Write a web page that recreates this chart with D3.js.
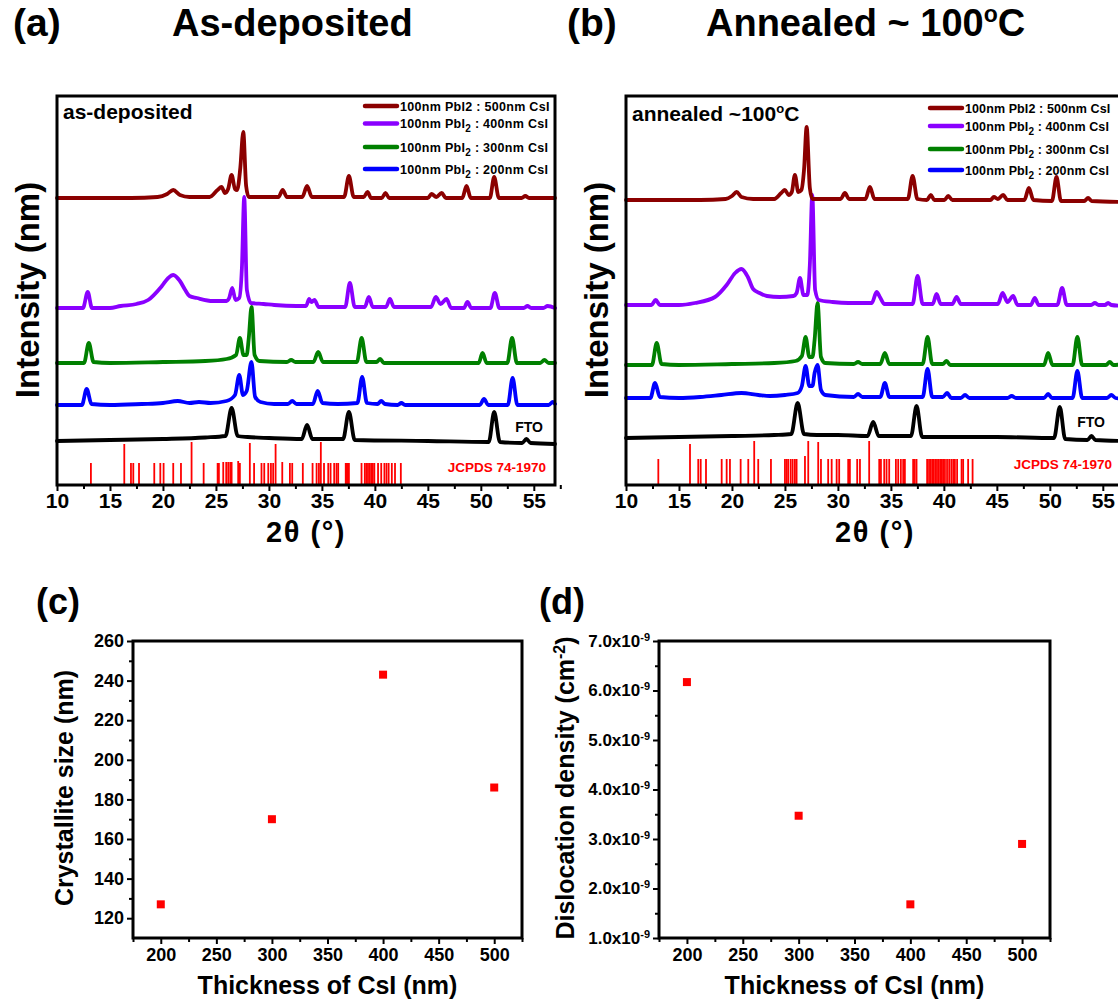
<!DOCTYPE html>
<html>
<head>
<meta charset="utf-8">
<script src="https://cdn.jsdelivr.net/npm/d3@7"></script>
<style>
  body { margin: 0; background: #fff; }
  svg { display: block; }
  text { font-family: "Liberation Sans", Arial, Helvetica, sans-serif; font-weight: bold; }
</style>
</head>
<body>
<svg id="fig" width="1118" height="1000"></svg>
<script>
// ---------------- XRD patterns: [2θ (deg), intensity above the trace offset (a.u.)] ----------------
// as-deposited films
const asDep500 = [[10,0],[17,0],[19.5,1],[20.4,4],[20.97,8],[21.6,3],[22.5,1],[24.4,1],[25.15,8],[25.53,11],[25.85,5],[26.15,9],[26.48,23],[26.8,9],[27.0,8],[27.3,30],[27.58,66],[27.85,12],[28.1,1],[30.9,1],[31.3,8],[31.7,1],[33.15,1],[33.6,12],[34.05,1],[37.1,1],[37.55,22],[38.0,1],[38.95,1],[39.3,6],[39.65,0],[40.65,0],[41.0,5],[41.35,0],[45.0,0],[45.35,4],[45.8,1],[46.3,5],[46.7,0],[48.25,0],[48.65,12],[49.05,0],[50.85,0],[51.26,21],[51.7,0],[53.85,0],[54.2,2],[54.55,0],[57,0]];
const asDep400 = [[10,0],[12.45,0],[12.9,16],[13.3,0],[15,0],[16,2],[17.5,4],[18.6,8],[19.9,22],[20.5,30],[20.97,33],[21.6,27],[22.1,18],[22.5,12],[23.2,10],[24.7,7],[26.0,7],[26.25,10],[26.54,20],[26.85,8],[27.2,10],[27.45,40],[27.67,111],[27.92,18],[28.3,5],[29.5,4],[30.5,3],[32.6,2],[33.5,2],[33.8,9],[34.0,6],[34.3,8],[34.7,1],[37.2,1],[37.64,25],[38.1,1],[39.05,1],[39.43,11],[39.8,1],[41.05,1],[41.42,9],[41.8,1],[45.3,1],[45.75,11],[46.2,4],[46.76,9],[47.2,0],[48.4,0],[48.74,6],[49.1,0],[50.9,0],[51.32,15],[51.75,0],[54.05,0],[54.4,2],[54.75,0],[55.9,0],[56.3,2],[57,0]];
const asDep300 = [[10,0],[12.55,0],[13.0,20],[13.45,1],[15,0],[20,1],[24,2],[26,4],[26.9,8],[27.26,25],[27.6,8],[27.9,8],[28.1,25],[28.36,56],[28.65,8],[29.1,2],[31.7,1],[32.1,3],[32.5,1],[34.2,1],[34.65,11],[35.1,1],[38.3,1],[38.75,25],[39.2,1],[40.15,1],[40.5,4],[40.85,0],[49.8,0],[50.16,10],[50.55,0],[52.5,0],[52.95,25],[53.4,0],[55.6,0],[56.0,3],[56.4,0],[57,0]];
const asDep200 = [[10,0],[12.35,0],[12.8,16],[13.25,1],[15,0],[18,1],[20,2],[21.4,4],[22.5,2],[23.4,3],[24.5,2],[26,4],[26.8,10],[27.2,30],[27.55,10],[27.9,14],[28.35,43],[28.7,8],[29.2,3],[30.5,1],[31.8,1],[32.2,4],[32.6,1],[34.15,1],[34.6,14],[35.05,2],[36.5,1],[38.35,2],[38.8,28],[39.25,2],[40.25,1],[40.6,4],[40.95,1],[42.15,0],[42.5,2],[42.85,0],[49.9,0],[50.3,6],[50.7,0],[52.55,0],[53.0,27],[53.45,0],[56.4,0],[56.8,3],[57,1]];
const asDepFTO = [[10,0],[15,1],[20,2],[24,3.5],[25.9,5],[26.48,33],[27.05,5],[28,4],[30,3],[33.1,2],[33.6,16],[34.1,2],[37.0,2],[37.55,29],[38.1,1],[45,0],[50.75,-1],[51.26,29],[51.8,-1],[53.9,-2],[54.3,2],[54.7,-2],[57,-3]];
const asDepOffsets = [287, 177, 122, 80, 44];

// films annealed at ~100 °C
const ann500 = [[10,0],[17,0],[19.4,1],[20.0,4],[20.44,8],[20.9,3],[22,1],[24,1],[24.65,7],[25.0,10],[25.35,5],[25.65,8],[25.94,25],[26.26,8],[26.55,10],[26.8,30],[27.05,73],[27.35,12],[27.6,1],[30.25,1],[30.66,7],[31.05,1],[32.6,1],[33.02,13],[33.45,1],[36.6,1],[37.05,24],[37.5,1],[38.4,0],[38.77,5],[39.1,0],[40.05,0],[40.41,4],[40.8,0],[44.4,0],[44.72,3],[45.1,1],[45.59,5],[46.0,0],[47.6,0],[48.02,12],[48.45,0],[50.2,-1],[50.63,23],[51.05,-1],[53.25,-1],[53.61,2],[53.95,-1],[57,-2]];
const ann400 = [[10,0],[12.4,0],[12.8,5],[13.2,0],[15,0],[16.5,2],[18.4,8],[19.5,20],[20.3,32],[20.9,36],[21.5,28],[22.0,16],[22.6,12],[23.3,9],[24.5,8],[25.8,9],[26.1,12],[26.42,27],[26.75,10],[27.1,10],[27.35,40],[27.58,110],[27.85,15],[28.2,5],[29.5,3],[31,2],[33.2,2],[33.65,13],[33.96,8],[34.4,1],[37.05,1],[37.52,29],[38,1],[38.95,1],[39.31,11],[39.7,1],[40.8,1],[41.2,8],[41.6,1],[45.1,1],[45.54,12],[46.0,3],[46.54,9],[46.95,0],[48.2,0],[48.58,7],[48.95,0],[50.7,0],[51.16,17],[51.6,0],[53.9,0],[54.25,2],[54.6,0],[55.2,0],[55.5,2],[55.8,0],[57,-1]];
const ann300 = [[10,0],[12.45,0],[12.9,22],[13.35,1],[15,0],[20,1],[24,2],[26,4],[26.6,9],[26.95,28],[27.3,8],[27.6,8],[27.8,25],[28.08,62],[28.4,8],[28.8,2],[31.5,1],[31.9,3],[32.3,1],[34.0,1],[34.43,12],[34.85,1],[38.0,1],[38.46,28],[38.9,1],[39.9,1],[40.25,4],[40.6,0],[49.45,0],[49.84,12],[50.25,0],[52.15,0],[52.6,28],[53.05,0],[55.3,0],[55.66,3],[56.0,0],[57,1]];
const ann200 = [[10,0],[12.3,0],[12.74,15],[13.2,1],[15,0],[17,1],[19,3],[20.9,5],[22.5,3],[23.6,2],[25,3],[26.2,5],[26.6,12],[26.95,32],[27.3,12],[27.6,12],[27.8,25],[28.08,33],[28.4,8],[28.8,3],[31.5,1],[31.9,4],[32.3,1],[34.0,1],[34.43,15],[34.85,1],[38.0,1],[38.46,29],[38.9,1],[39.9,1],[40.3,5],[40.7,0],[41.6,0],[42.0,3],[42.4,0],[46.0,0],[46.4,2],[46.8,0],[49.45,0],[49.84,4],[50.2,0],[52.15,0],[52.6,27],[53.05,0],[55.4,0],[55.8,3],[56.2,0],[57,-1]];
const annFTO = [[10,0],[15,1],[20,2],[24,3],[25.6,4],[26.2,35],[26.8,4],[28,3],[30,3],[32.8,2],[33.33,16],[33.85,2],[36.9,2],[37.42,32],[37.95,1],[45,1],[50.4,0],[50.94,31],[51.45,-1],[53.55,-2],[53.93,2],[54.3,-2],[57,-3]];
const annOffsets = [285, 180, 120, 87, 47];

// reference pattern JCPDS 74-1970: [2θ, relative stick height]
const refSticksAsDep = [[13.2,22],[16.35,41],[16.98,22],[17.2,22],[17.74,22],[19.18,22],[19.75,22],[20.06,22],[20.97,22],[21.7,22],[22.7,43],[23.84,22],[25.16,22],[25.28,22],[25.69,23],[25.97,23],[26.16,23],[26.35,23],[26.48,23],[27.1,24],[27.26,22],[28.2,42],[28.6,22],[29.3,22],[29.56,22],[29.94,22],[30.19,22],[30.4,22],[30.63,41],[31.26,23],[31.98,22],[32.2,22],[33.2,22],[34.12,22],[34.5,22],[34.72,22],[34.9,43],[35.2,22],[35.6,22],[35.82,22],[36.16,22],[36.38,22],[36.54,22],[37.25,22],[37.35,22],[37.45,22],[37.55,22],[38.74,22],[39.05,22],[39.2,22],[39.35,22],[39.5,22],[39.65,22],[39.8,22],[39.95,22],[40.3,22],[40.6,22],[40.9,22],[41.1,22],[41.3,22],[41.6,22],[41.9,22],[42.45,22]];
const refSticksAnn = [[10.0,27],[13.05,26],[16.04,41],[16.82,26],[17.05,26],[17.55,26],[19.03,26],[19.5,26],[19.81,26],[20.82,26],[21.54,26],[22.1,44],[22.48,26],[23.68,26],[25.0,26],[25.16,26],[25.31,26],[25.54,26],[25.73,26],[25.94,26],[26.1,26],[26.89,29],[27.2,44],[28.14,43],[28.4,26],[29.08,26],[29.41,26],[29.88,26],[30.12,26],[30.97,26],[31.13,26],[31.82,26],[32.08,26],[32.95,44],[33.9,26],[34.06,26],[34.37,26],[34.59,26],[34.84,26],[35.47,26],[35.69,26],[35.94,26],[36.16,26],[36.32,26],[37.1,26],[37.25,26],[37.42,26],[38.42,26],[38.6,26],[38.75,26],[38.9,26],[39.05,26],[39.2,26],[39.35,26],[39.5,26],[39.65,26],[39.8,26],[39.93,26],[40.1,26],[40.3,26],[40.5,26],[40.7,26],[40.88,26],[41.04,26],[41.25,26],[41.67,26],[41.82,26],[42.29,26],[42.71,26]];

const seriesColors = ["#8b0000", "#8a00ff", "#008000", "#0000ff", "#000000"];
// legend entries: [text before subscript, subscript, text after]
const legendEntries = [
  ["100nm PbI2 : 500nm CsI", "", ""],
  ["100nm PbI", "2", " : 400nm CsI"],
  ["100nm PbI", "2", " : 300nm CsI"],
  ["100nm PbI", "2", " : 200nm CsI"]
];
const twoThetaTicks = [10, 15, 20, 25, 30, 35, 40, 45, 50, 55];

// ---------------- microstructure vs CsI thickness ----------------
const thickness = [200, 300, 400, 500];
const crystalliteSize = [127, 170, 243, 186];                   // nm
const dislocationDensity = [6.17e-9, 3.47e-9, 1.68e-9, 2.9e-9]; // cm^-2
const thicknessTicks = [200, 250, 300, 350, 400, 450, 500];
const sizeTicks = [120, 140, 160, 180, 200, 220, 240, 260];
const densityTicks = [1, 2, 3, 4, 5, 6, 7].map(v => v * 1e-9);

// ================================================================
const svg = d3.select("#fig");
const FONT = '"Liberation Sans", Arial, Helvetica, sans-serif';

function txt(g, x, y, s, size, opts = {}) {
  const t = g.append("text").attr("x", x).attr("y", y).attr("font-size", size)
    .style("fill", opts.fill || "#000").text(s);
  if (opts.anchor) t.attr("text-anchor", opts.anchor);
  if (opts.transform) t.attr("transform", opts.transform);
  if (opts.spacing) t.attr("letter-spacing", opts.spacing);
  return t;
}

function styleAxis(g, width, labelSize) {
  g.select(".domain").remove();
  g.selectAll(".tick line").attr("stroke", "#000").attr("stroke-width", width);
  g.selectAll(".tick text").attr("font-size", labelSize).style("fill", "#000")
    .style("font-family", FONT).style("font-weight", "bold");
}

// ---------------- XRD panel ----------------
function xrdPanel(p) {
  const g = svg.append("g");
  const x = d3.scaleLinear().domain([10, 57]).range([p.left, p.right]);
  const y = d3.scaleLinear().domain([0, 389]).range([485, 96]);

  // reference sticks
  g.append("g").selectAll("line").data(p.sticks).join("line")
    .attr("x1", d => x(d[0])).attr("x2", d => x(d[0]))
    .attr("y1", y(0)).attr("y2", d => y(d[1]))
    .attr("stroke", "#ff0000").attr("stroke-width", 1.8);

  // stacked traces, bottom (FTO) first
  for (let i = p.traces.length - 1; i >= 0; i--) {
    const off = p.offsets[i];
    const line = d3.line().x(d => x(d[0])).y(d => y(off + d[1])).curve(d3.curveMonotoneX);
    g.append("path").datum(p.traces[i]).attr("d", line)
      .attr("fill", "none").attr("stroke", seriesColors[i])
      .attr("stroke-width", 3.8).attr("stroke-linejoin", "round").attr("stroke-linecap", "round");
  }

  // frame
  g.append("rect").attr("x", p.left).attr("y", 96).attr("width", p.right - p.left).attr("height", 389)
    .attr("fill", "none").attr("stroke", "#000").attr("stroke-width", 3);

  // 2θ axis
  const major = g.append("g").attr("transform", "translate(0,485)")
    .call(d3.axisBottom(x).tickValues(twoThetaTicks).tickSize(6).tickSizeOuter(0).tickPadding(2));
  styleAxis(major, 2, 21);
  const minor = g.append("g").attr("transform", "translate(0,485)")
    .call(d3.axisBottom(x).tickValues(twoThetaTicks.map(v => v + 2.5)).tickSize(4).tickFormat(""));
  styleAxis(minor, 2, 21);

  // axis titles
  txt(g, (p.left + p.right) / 2, 542, "2θ (°)", 29, { anchor: "middle", spacing: 1.5 });
  txt(g, 0, 0, "Intensity (nm)", 33, { anchor: "middle", transform: `translate(${p.left - 18},290) rotate(-90)` });

  // legend
  legendEntries.forEach((e, i) => {
    const ry = p.legendRows[i];
    g.append("line").attr("x1", p.legendX).attr("x2", p.legendX + 32).attr("y1", ry).attr("y2", ry)
      .attr("stroke", seriesColors[i]).attr("stroke-width", 4.5).attr("stroke-linecap", "round");
    const t = g.append("text").attr("x", p.legendX + 35).attr("y", ry + 4.5).attr("font-size", p.legendSize)
      .attr("letter-spacing", p.legendSpacing).style("fill", "#000");
    t.append("tspan").text(e[0]);
    if (e[1]) {
      t.append("tspan").attr("dy", 4).attr("font-size", p.legendSize - 2.5).text(e[1]);
      t.append("tspan").attr("dy", -4).text(e[2]);
    }
  });

  // inner labels
  const note = txt(g, p.left + 6, p.noteY, p.note[0], 21);
  if (p.note[1]) {
    note.append("tspan").attr("dy", -8).attr("font-size", 13).text(p.note[1]);
    note.append("tspan").attr("dy", 8).text(p.note[2]);
  }
  txt(g, p.ftoX, p.ftoY, "FTO", 14, { anchor: "middle" });
  txt(g, p.jcpdsX, p.jcpdsY, "JCPDS 74-1970", 13.5, { anchor: "end", fill: "#ff0000" });
}

xrdPanel({
  left: 57, right: 555, traces: [asDep500, asDep400, asDep300, asDep200, asDepFTO],
  offsets: asDepOffsets, sticks: refSticksAsDep,
  legendX: 365, legendRows: [106, 123.5, 147, 169], legendSize: 12.5, legendSpacing: 0.3,
  note: ["as-deposited"], noteY: 119,
  ftoX: 529, ftoY: 432, jcpdsX: 546, jcpdsY: 472
});
xrdPanel({
  left: 626, right: 1124, traces: [ann500, ann400, ann300, ann200, annFTO],
  offsets: annOffsets, sticks: refSticksAnn,
  legendX: 930, legendRows: [108, 126, 149, 170], legendSize: 12.5, legendSpacing: 0.1,
  note: ["annealed ~100", "o", "C"], noteY: 121,
  ftoX: 1091, ftoY: 427, jcpdsX: 1112, jcpdsY: 469
});

// headings
const head = svg.append("g");
txt(head, 13, 36, "(a)", 39);
txt(head, 172, 36, "As-deposited", 38);
txt(head, 567, 36, "(b)", 39);
const ann = txt(head, 706, 36, "Annealed ~ 100", 38);
ann.append("tspan").attr("dy", -14).attr("font-size", 23).text("o");
ann.append("tspan").attr("dy", 14).text("C");

// ---------------- scatter panels ----------------
const FRAME_TOP = 641, FRAME_BOTTOM = 938;

function scatterPanel(p) {
  const g = svg.append("g");
  const x = d3.scaleLinear().domain([175, 525]).range([p.left, p.right]);
  const y = d3.scaleLinear().domain(p.yDomain).range([FRAME_BOTTOM, FRAME_TOP]);

  const xMaj = g.append("g").attr("transform", `translate(0,${FRAME_BOTTOM})`)
    .call(d3.axisBottom(x).tickValues(thicknessTicks).tickSize(6).tickSizeOuter(0).tickPadding(4));
  styleAxis(xMaj, 2, 18);
  const xMin = g.append("g").attr("transform", `translate(0,${FRAME_BOTTOM})`)
    .call(d3.axisBottom(x).tickValues([175, 225, 275, 325, 375, 425, 475, 525]).tickSize(4).tickFormat(""));
  styleAxis(xMin, 2, 18);

  const yMaj = g.append("g").attr("transform", `translate(${p.left},0)`)
    .call(d3.axisLeft(y).tickValues(p.yTicks).tickSize(6).tickSizeOuter(0).tickPadding(3));
  styleAxis(yMaj, 2, p.yLabelSize);
  if (p.sci) {
    yMaj.selectAll(".tick text").each(function (d) {
      const t = d3.select(this);
      t.text(null);
      t.append("tspan").text((d * 1e9).toFixed(1) + "x10");
      t.append("tspan").attr("dy", "-0.55em").attr("font-size", 11).text("-9");
    });
  }
  const yMin = g.append("g").attr("transform", `translate(${p.left},0)`)
    .call(d3.axisLeft(y).tickValues(p.yMinor).tickSize(4).tickFormat(""));
  styleAxis(yMin, 2, 18);

  g.append("rect").attr("x", p.left).attr("y", FRAME_TOP).attr("width", p.right - p.left)
    .attr("height", FRAME_BOTTOM - FRAME_TOP)
    .attr("fill", "none").attr("stroke", "#000").attr("stroke-width", 3);

  g.append("g").selectAll("rect").data(thickness.map((t, i) => [t, p.values[i]])).join("rect")
    .attr("x", d => x(d[0]) - 4).attr("y", d => y(d[1]) - 4).attr("width", 8).attr("height", 8)
    .attr("fill", "#ff0000");

  txt(g, (p.left + p.right) / 2, 994, "Thickness of CsI (nm)", 25, { anchor: "middle" });
  const yt = txt(g, 0, 0, p.yTitle[0], 25, { anchor: "middle", transform: `translate(${p.yTitleX},788) rotate(-90)` });
  if (p.yTitle[1]) {
    yt.append("tspan").attr("dy", -9).attr("font-size", 16).text(p.yTitle[1]);
    yt.append("tspan").attr("dy", 9).text(p.yTitle[2]);
  }
  txt(g, p.tagX, 614, p.tag, 36);
}

scatterPanel({
  left: 133, right: 522, yDomain: [110, 260], yTicks: sizeTicks,
  yMinor: [130, 150, 170, 190, 210, 230, 250], yLabelSize: 18,
  values: crystalliteSize, yTitle: ["Crystallite size (nm)"], yTitleX: 73,
  tag: "(c)", tagX: 36
});
scatterPanel({
  left: 659, right: 1050, yDomain: [1e-9, 7e-9], yTicks: densityTicks, sci: true,
  yMinor: [1.5, 2.5, 3.5, 4.5, 5.5, 6.5].map(v => v * 1e-9), yLabelSize: 17,
  values: dislocationDensity, yTitle: ["Dislocation density (cm", "-2", ")"], yTitleX: 574,
  tag: "(d)", tagX: 539
});
</script>
</body>
</html>
